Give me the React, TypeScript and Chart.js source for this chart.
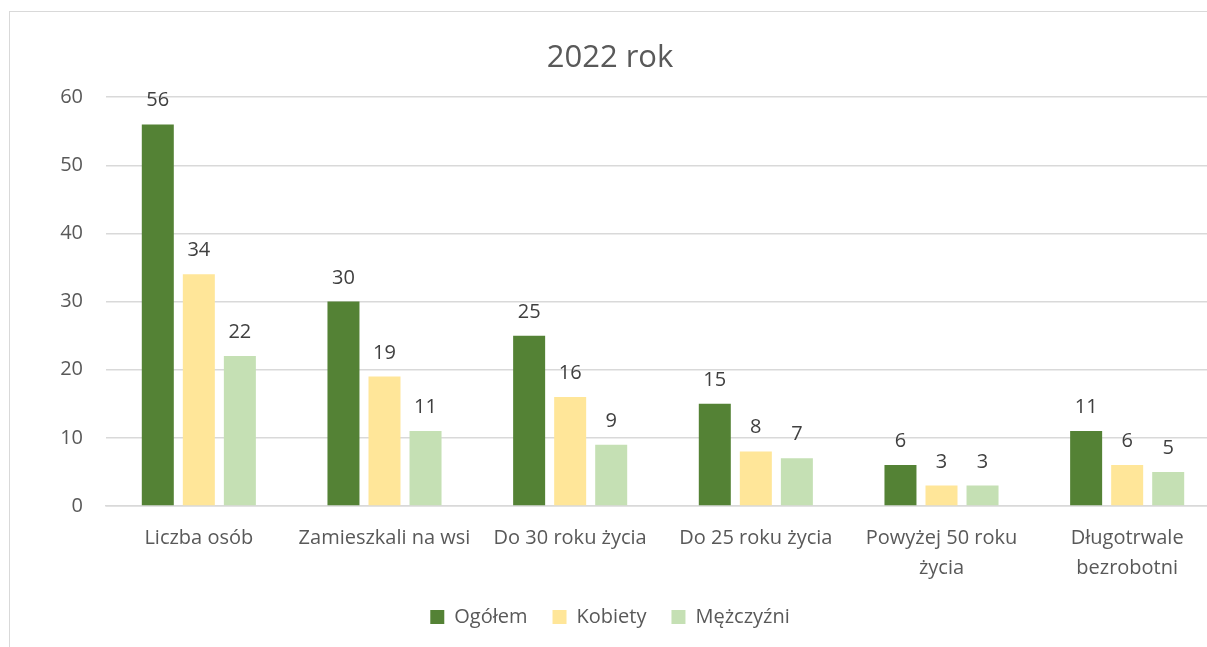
import React, { useEffect, useRef } from "react";
import { Chart, registerables } from "chart.js";

Chart.register(...registerables);

const categories: (string | string[])[] = [
  "Liczba osób",
  "Zamieszkali na wsi",
  "Do 30 roku życia",
  "Do 25 roku życia",
  ["Powyżej 50 roku", "życia"],
  ["Długotrwale", "bezrobotni"],
];
const ogolem = [56, 30, 25, 15, 6, 11];
const kobiety = [34, 19, 16, 8, 3, 6];
const mezczyzni = [22, 11, 9, 7, 3, 5];
const yTicks = [0, 10, 20, 30, 40, 50, 60];
const titleText = "2022 rok";

const FONT = "'Open Sans', sans-serif";

const valueLabels = {
  id: "valueLabels",
  afterDatasetsDraw(chart: any) {
    const ctx = chart.ctx;
    ctx.save();
    ctx.font = `20px ${FONT}`;
    ctx.fillStyle = "#404040";
    ctx.textAlign = "center";
    ctx.textBaseline = "alphabetic";
    chart.data.datasets.forEach((ds: any, i: number) => {
      const meta = chart.getDatasetMeta(i);
      meta.data.forEach((bar: any, j: number) => {
        ctx.fillText(String(ds.data[j]), bar.x, bar.y - 18);
      });
    });
    ctx.restore();
  },
};

export default function App() {
  const ref = useRef<HTMLCanvasElement>(null);
  useEffect(() => {
    if (!ref.current) return;
    const chart = new Chart(ref.current, {
      type: "bar",
      data: {
        labels: categories,
        datasets: [
          { label: "Ogółem", data: ogolem, backgroundColor: "#548235" },
          { label: "Kobiety", data: kobiety, backgroundColor: "#FFE699" },
          { label: "Mężczyźni", data: mezczyzni, backgroundColor: "#C5E0B4" },
        ],
      },
      options: {
        responsive: false,
        animation: false,
        layout: { padding: { top: 0, left: 0, right: 0, bottom: 10 } },
        datasets: {
          bar: { categoryPercentage: 0.663, barPercentage: 0.78 },
        },
        plugins: {
          title: {
            display: true,
            text: titleText,
            color: "#595959",
            font: { family: FONT, size: 31, weight: "normal", lineHeight: 1.2 },
            padding: { top: 40, bottom: 20 },
          },
          legend: {
            position: "bottom",
            labels: {
              boxWidth: 14,
              boxHeight: 14,
              padding: 25,
              color: "#595959",
              font: { family: FONT, size: 20 },
            },
          },
          tooltip: { enabled: false },
        },
        scales: {
          x: {
            grid: { display: false, drawTicks: false },
            border: { display: true, color: "#d9d9d9", width: 1.5 },
            ticks: {
              color: "#595959",
              font: { family: FONT, size: 20, lineHeight: 1.5 },
              padding: 17,
              maxRotation: 0,
              autoSkip: false,
            },
            afterFit: (s: any) => {
              s.height = 76;
            },
          },
          y: {
            min: 0,
            max: 60,
            afterBuildTicks: (s: any) => {
              s.ticks = yTicks.map((v) => ({ value: v }));
            },
            grid: { color: "#d9d9d9", lineWidth: 1.5, drawTicks: false },
            border: { display: false },
            ticks: {
              color: "#595959",
              font: { family: FONT, size: 20 },
              padding: 23,
            },
            afterFit: (s: any) => {
              s.width = 106;
            },
          },
        },
      },
      plugins: [valueLabels],
    });
    return () => chart.destroy();
  }, []);

  return (
    <div
      style={{
        position: "absolute",
        left: 0,
        top: 0,
        width: 1207,
        height: 647,
        overflow: "hidden",
        background: "#fff",
      }}
    >
      <div
        style={{
          position: "absolute",
          left: 9,
          top: 11,
          width: 1300,
          height: 800,
          border: "1.5px solid #d9d9d9",
        }}
      />
      <canvas
        ref={ref}
        width={1220}
        height={647}
        style={{ position: "absolute", left: 0, top: 0, width: 1220, height: 647 }}
      />
    </div>
  );
}
